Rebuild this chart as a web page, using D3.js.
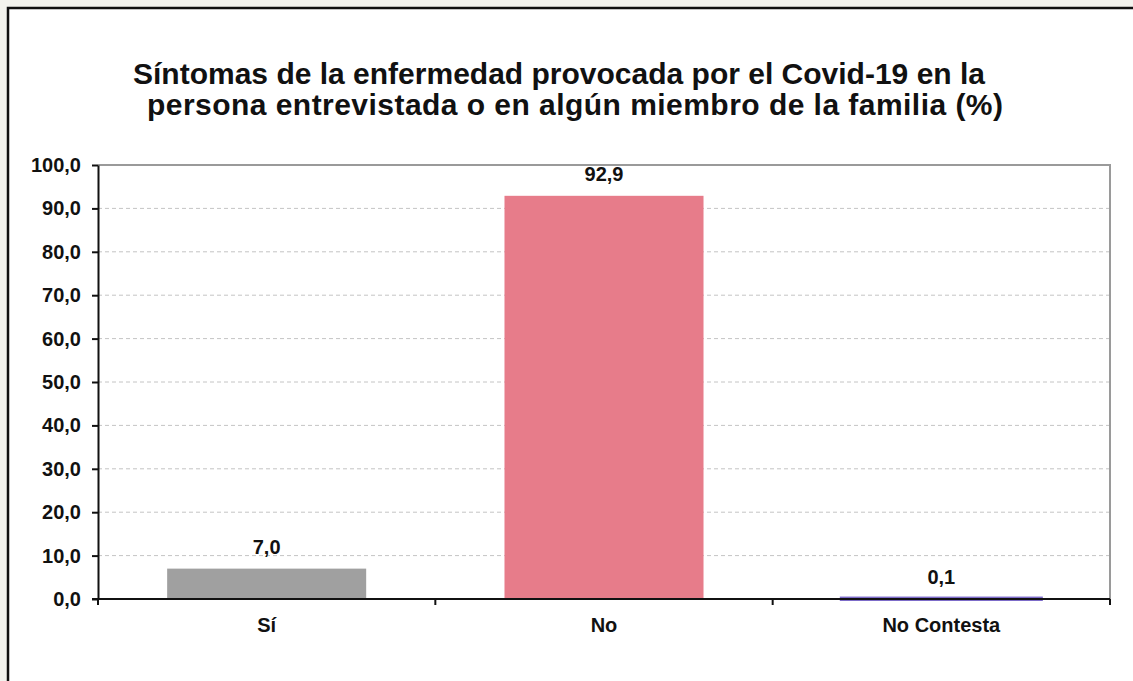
<!DOCTYPE html>
<meta charset="utf-8">
<script src="https://d3js.org/d3.v7.min.js"></script>
<style>
  html, body { margin: 0; padding: 0; background: #f3f3ee; }
  svg { display: block; font-family: "Liberation Sans", Arial, sans-serif; }
  .grid line { stroke: #c4c4c4; stroke-dasharray: 4,3; }
  .axis text { font-size: 20px; font-weight: bold; fill: #111; }
  .axis path, .axis line { stroke: #111; stroke-width: 2px; }
  .val { font-size: 20px; font-weight: bold; fill: #111; }
</style>
<body>
<div id="chart"></div>
<script>

var categories = ["Sí", "No", "No Contesta"];
var values = [7.0, 92.9, 0.1];
var barColors = ["#a0a0a0", "#e77c8a", "#7d6cc9"];
var yTicks = [0, 10, 20, 30, 40, 50, 60, 70, 80, 90, 100];
var titleLines = [
  "Síntomas de la enfermedad provocada por el Covid-19 en la",
  "persona entrevistada o en algún miembro de la familia (%)"
];

var W = 1133, H = 681;
var plot = {left: 98, right: 1110, top: 165, bottom: 599};

var es = d3.formatLocale({decimal: ",", thousands: ".", grouping: [3], currency: ["", "€"]});
var fmt = es.format(".1f");

var svg = d3.select("#chart").append("svg")
  .attr("width", W).attr("height", H);

// white frame
svg.append("rect")
  .attr("x", 8).attr("y", 8)
  .attr("width", W + 20).attr("height", H + 20)
  .attr("fill", "#fff")
  .attr("stroke", "#111").attr("stroke-width", 2.5);

// title
var titlePos = [{x: 133, y: 84, w: 852}, {x: 147, y: 115, w: 856}];
svg.append("g").selectAll("text")
  .data(titleLines)
  .enter().append("text")
    .attr("x", function(d, i) { return titlePos[i].x; })
    .attr("y", function(d, i) { return titlePos[i].y; })
    .attr("textLength", function(d, i) { return titlePos[i].w; })
    .attr("lengthAdjust", "spacing")
    .style("font-size", "30px")
    .style("font-weight", "bold")
    .style("fill", "#111")
    .text(function(d) { return d; });

var x = d3.scaleBand()
  .domain(categories)
  .range([plot.left, plot.right])
  .paddingInner(0.41)
  .paddingOuter(0.205);

var xBounds = d3.scaleLinear()
  .domain([0, categories.length])
  .range([plot.left, plot.right]);

var y = d3.scaleLinear()
  .domain([0, 100])
  .range([plot.bottom, plot.top]);

// gridlines
svg.append("g")
  .attr("class", "grid")
  .selectAll("line")
  .data(yTicks.filter(function(d) { return d > 0 && d < 100; }))
  .enter().append("line")
    .attr("x1", plot.left).attr("x2", plot.right)
    .attr("y1", function(d) { return y(d); })
    .attr("y2", function(d) { return y(d); });

// plot frame top + right
svg.append("path")
  .attr("d", "M" + plot.left + "," + y(100) + "H" + plot.right + "V" + y(0))
  .attr("fill", "none")
  .attr("stroke", "#9a9a9a")
  .attr("stroke-width", 2);

// bars
svg.append("g").selectAll("rect")
  .data(values)
  .enter().append("rect")
    .attr("x", function(d, i) { return x(categories[i]); })
    .attr("width", x.bandwidth())
    .attr("y", function(d) { return y(d); })
    .attr("height", function(d) { return y(0) - y(d); })
    .attr("fill", function(d, i) { return barColors[i]; })
    .attr("stroke", function(d, i) { return i == 2 ? barColors[i] : "none"; })
    .attr("stroke-width", 4);

// value labels
svg.append("g").selectAll("text")
  .data(values)
  .enter().append("text")
    .attr("class", "val")
    .attr("x", function(d, i) { return x(categories[i]) + x.bandwidth() / 2; })
    .attr("y", function(d) { return y(d) - 15; })
    .attr("text-anchor", "middle")
    .text(function(d) { return fmt(d); });

// y axis
svg.append("g")
  .attr("class", "axis")
  .attr("transform", "translate(" + plot.left + ",0)")
  .call(d3.axisLeft(y).tickValues(yTicks).tickFormat(fmt).tickSize(6).tickSizeOuter(0).tickPadding(11));

// x axis: ticks at category boundaries
var xAxis = svg.append("g")
  .attr("class", "axis")
  .attr("transform", "translate(0," + plot.bottom + ")");
xAxis.append("line")
  .attr("x1", plot.left - 6).attr("x2", plot.right);
xAxis.selectAll(".bt")
  .data(d3.range(categories.length + 1))
  .enter().append("line")
    .attr("class", "bt")
    .attr("x1", function(d) { return xBounds(d); })
    .attr("x2", function(d) { return xBounds(d); })
    .attr("y1", 0).attr("y2", 6);
xAxis.selectAll(".cat")
  .data(categories)
  .enter().append("text")
    .attr("class", "cat")
    .attr("x", function(d) { return x(d) + x.bandwidth() / 2; })
    .attr("y", 33)
    .attr("text-anchor", "middle")
    .text(function(d) { return d; });

</script>
</body>
